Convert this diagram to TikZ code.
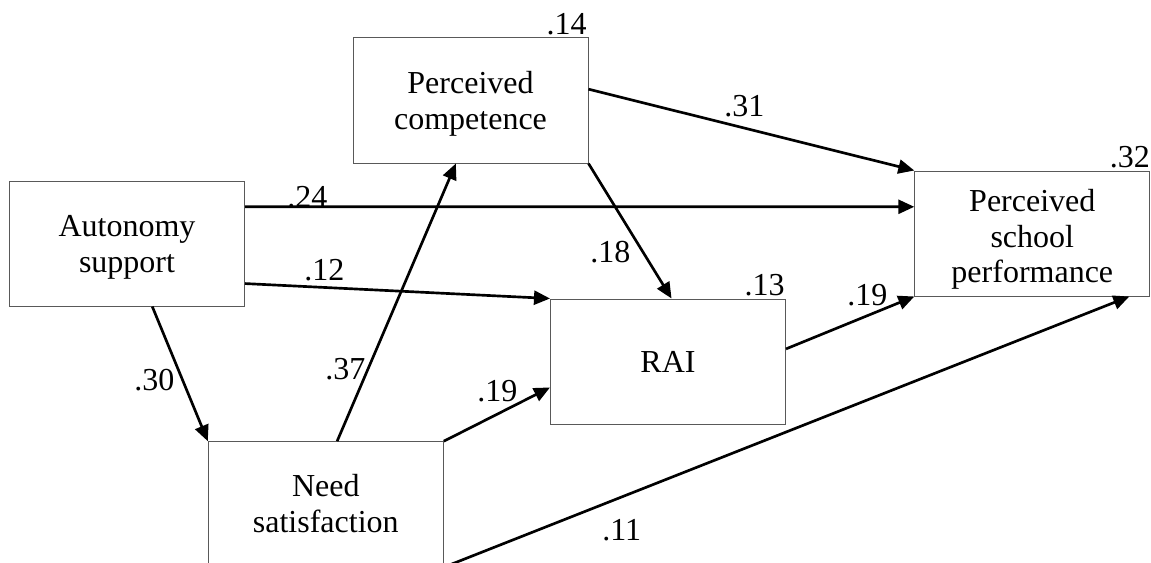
\documentclass[tikz,border=0pt]{standalone}
\usepackage{fontspec}
\setmainfont{Liberation Serif}
\usetikzlibrary{arrows.meta,calc}
\newcommand{\btext}[2]{\raisebox{#1}[0pt][0pt]{\begin{tabular}{@{}c@{}}#2\end{tabular}}}
\begin{document}
\begin{tikzpicture}[x=0.75pt,y=-0.75pt,
  box/.style={draw=black!65,line width=0.75pt,minimum width=176.25pt,minimum height=93.75pt,inner sep=0pt,align=center,font=\fontsize{24}{26.8}\selectfont},
  lbl/.style={inner sep=0pt,font=\fontsize{24}{26.8}\selectfont},
  arr/.style={line width=2pt,-{Triangle[length=12pt,width=10.5pt]}}]
\useasboundingbox (0,0) rectangle (1151,563);
\clip (0,0) rectangle (1151,563);
\fill[white] (0,0) rectangle (1151,563);
% boxes
\node[box] (pc)  at (470.5,100.5) {\btext{-9pt}{Perceived\\competence}};
\node[box] (as)  at (127,243.5) {\btext{-9pt}{Autonomy\\support}};
\node[box] (ns)  at (325.8,504.2) {\btext{-8.5pt}{Need\\satisfaction}};
\node[box] (rai) at (668,361.5) {RAI};
\node[box] (psp) at (1032.3,233.5) {\btext{-11pt}{Perceived\\school\\performance}};
% arrows
\draw[arr] ($(as.north east)!0.208!(as.south east)$) -- ($(psp.north west)!0.288!(psp.south west)$);
\draw[arr] ($(as.north east)!0.818!(as.south east)$) -- (rai.north west);
\draw[arr] ($(as.south west)!0.607!(as.south east)$) -- (ns.north west);
\draw[arr] ($(ns.north west)!0.548!(ns.north east)$) -- ($(pc.south west)!0.438!(pc.south east)$);
\draw[arr] (ns.north east) -- ($(rai.north west)!0.706!(rai.south west)$);
\draw[arr] (ns.south east) -- ($(psp.south west)!0.911!(psp.south east)$);
\draw[arr] ($(pc.north east)!0.41!(pc.south east)$) -- (psp.north west);
\draw[arr] (pc.south east) -- ($(rai.north west)!0.515!(rai.north east)$);
\draw[arr] ($(rai.north east)!0.4!(rai.south east)$) -- (psp.south west);
% labels
\node[lbl,anchor=base east] (l14) at (587,35) {.14};
\node[lbl,anchor=base east] (l32) at (1150,167) {.32};
\node[lbl,anchor=base east] (l13) at (785,295) {.13};
\node[lbl,anchor=base west] (l24) at (287,207) {.24};
\node[lbl,anchor=base west] (l12) at (304,280) {.12};
\node[lbl,anchor=base west] (l31) at (724,117) {.31};
\node[lbl,anchor=base west] (l18) at (590,262) {.18};
\node[lbl,anchor=base west] (l19a) at (847,305) {.19};
\node[lbl,anchor=base west] (l30) at (134,390) {.30};
\node[lbl,anchor=base west] (l37) at (325,379) {.37};
\node[lbl,anchor=base west] (l19b) at (477,401) {.19};
\node[lbl,anchor=base west] (l11) at (602,540) {.11};
\end{tikzpicture}
\end{document}
